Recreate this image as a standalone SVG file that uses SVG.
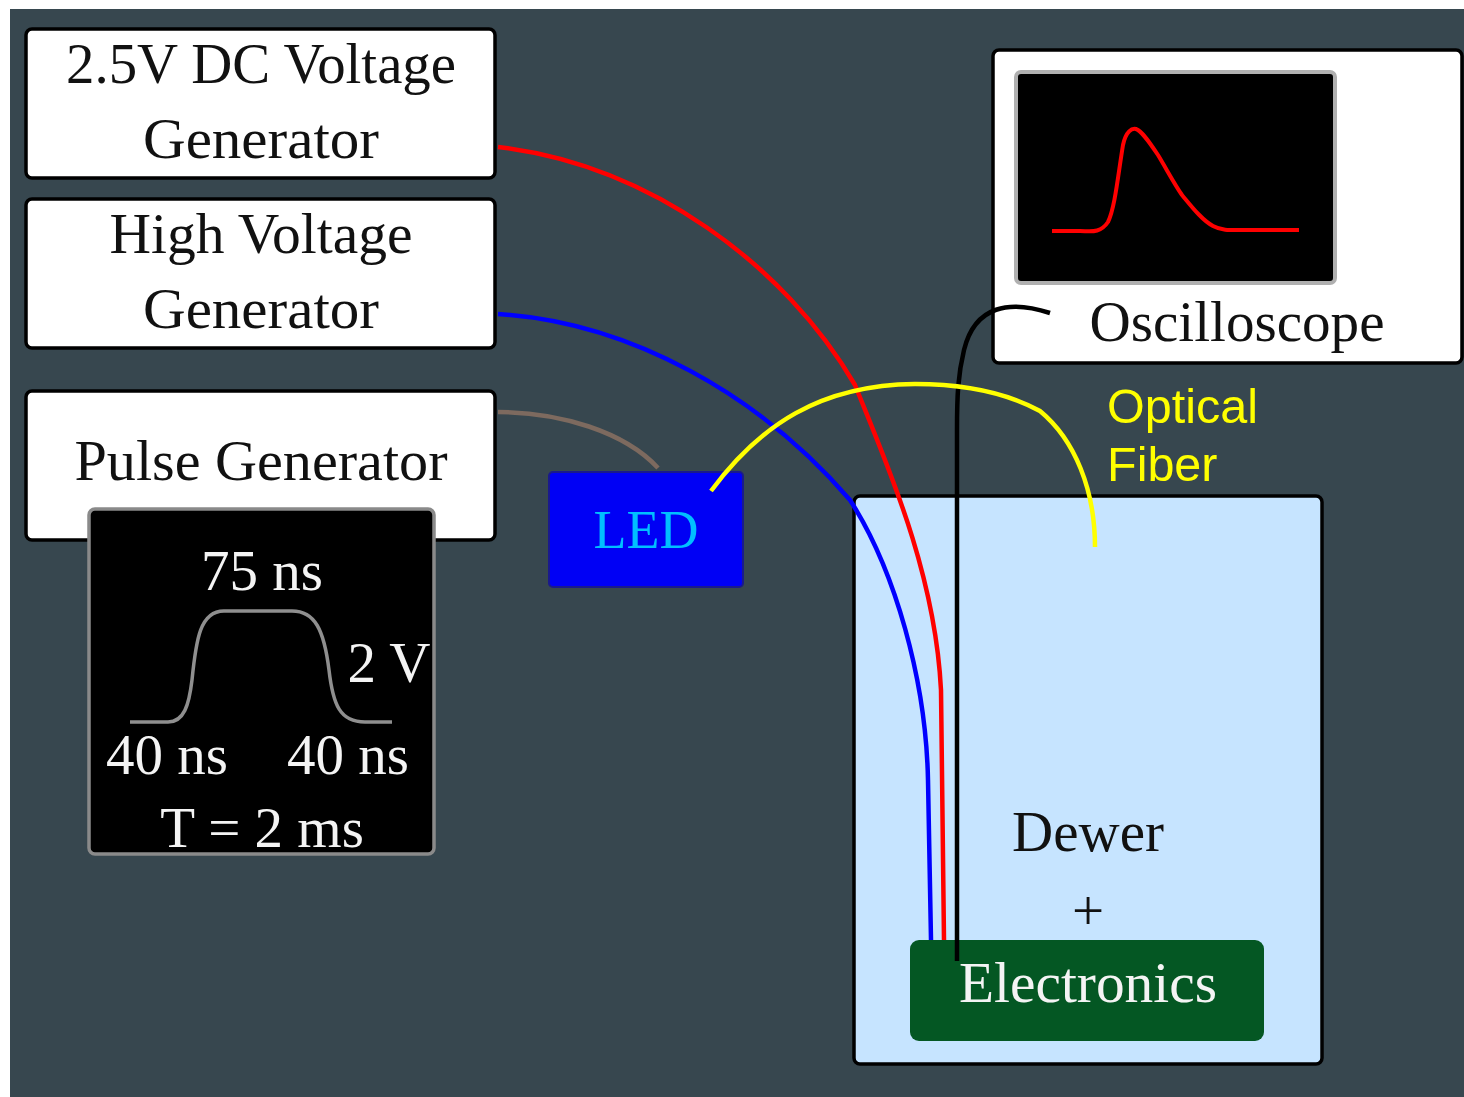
<svg xmlns="http://www.w3.org/2000/svg" width="1464" height="1097" viewBox="0 0 1464 1097">
<style>
.box{fill:#fff;stroke:#000;stroke-width:3.5}
.t{font-family:"Liberation Serif",serif;font-size:57px;text-anchor:middle;fill:#111}
.w{fill:#f4f4f4}
.wire{fill:none;stroke-width:4.5}
.scope{fill:#000;stroke:#8a8a8a;stroke-width:3.5}
</style>
<rect width="1464" height="1097" fill="#fff"/>
<rect id="background" x="10" y="9" width="1454" height="1088" fill="#37474f"/>
<g id="dewer"><rect x="854" y="496" width="468" height="568" rx="6" fill="#c6e4ff" stroke="#000" stroke-width="3.5"/>
<text class="t" x="1088" y="851">Dewer</text><text class="t" x="1088" y="930">+</text></g>
<g id="electronics"><rect x="910" y="940" width="354" height="101" rx="9" fill="#045723"/>
</g>
<g id="dc-generator"><rect class="box" x="26" y="29" width="469" height="149" rx="6"/>
<text class="t" x="261" y="83" textLength="390" lengthAdjust="spacingAndGlyphs">2.5V DC Voltage</text><text class="t" x="261" y="158" textLength="236" lengthAdjust="spacingAndGlyphs">Generator</text></g>
<g id="hv-generator"><rect class="box" x="26" y="199" width="469" height="149" rx="6"/>
<text class="t" x="261" y="253" textLength="303" lengthAdjust="spacingAndGlyphs">High Voltage</text><text class="t" x="261" y="328" textLength="236" lengthAdjust="spacingAndGlyphs">Generator</text></g>
<g id="pulse-generator"><rect class="box" x="26" y="391" width="469" height="149" rx="6"/>
<text class="t" x="261" y="480" textLength="373" lengthAdjust="spacingAndGlyphs">Pulse Generator</text></g>
<g id="pulse-display"><rect class="scope" x="89" y="509" width="345" height="345" rx="6"/>
<path d="M130 722H168C184 722 189 705 192 680C196 640 200 610 225 611H292C315 611 324 630 329 670C333 705 340 722 365 722H392" fill="none" stroke="#8f8f8f" stroke-width="3.5"/>
<text class="t w" x="262" y="590">75 ns</text><text class="t w" x="389" y="682">2 V</text>
<text class="t w" x="167" y="774">40 ns</text><text class="t w" x="348" y="774">40 ns</text>
<text class="t w" x="262" y="847">T = 2 ms</text></g>
<g id="led"><rect x="549" y="472" width="194" height="115" rx="4" fill="#0000f5" stroke="#1a1a8c" stroke-width="2"/>
<text class="t" x="646" y="548" style="fill:#00bfff;font-size:54px">LED</text></g>
<g id="oscilloscope"><rect class="box" x="993" y="50" width="469" height="313" rx="6"/>
<rect x="1016" y="72" width="319" height="211" rx="5" fill="#000" stroke="#b0b0b0" stroke-width="4"/>
<path d="M1052 231H1080C1090 231 1100 234 1108 222C1115 208 1118 175 1123 145C1126 131 1132 128 1136 129C1142 131 1150 143 1158 155C1167 170 1175 185 1182 195C1192 207 1202 220 1213 226C1222 231 1232 230 1245 230H1299" fill="none" stroke="#f00" stroke-width="4"/>
<text class="t" x="1237" y="341" textLength="295" lengthAdjust="spacingAndGlyphs">Oscilloscope</text></g>
<g id="connectors">
<path class="wire" stroke="#f00" d="M498 147C650 165 785 265 855 385C885 460 935 570 941 690L944 940"/>
<path class="wire" stroke="#00f" d="M498 314C630 322 760 395 850 500C895 570 926 680 928 780L931 940"/>
<path class="wire" stroke="#7d6a5f" d="M498 412C560 412 625 432 658 468"/>
<path class="wire" stroke="#000" d="M1050 313C1010 300 975 305 964 350C958 375 957 395 957 430L957 961"/>
<path class="wire" stroke="#ff0" d="M711 491C760 425 820 385 915 384C960 384 1005 392 1040 411C1075 440 1095 490 1095 547"/>
</g>
<text class="t w" x="1088" y="1002" textLength="258" lengthAdjust="spacingAndGlyphs">Electronics</text>
<g id="fiber-label" font-family="Liberation Sans,sans-serif" font-size="48.5" fill="#ff0"><text x="1107" y="423">Optical</text><text x="1107" y="481">Fiber</text></g>
</svg>
